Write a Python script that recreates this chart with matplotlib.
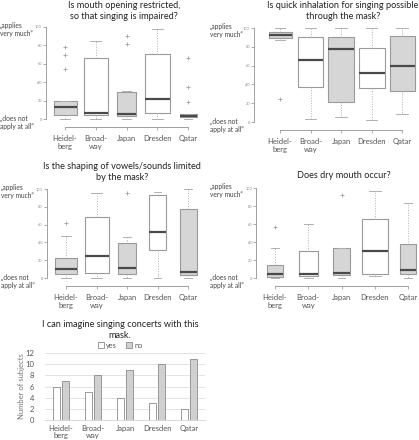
import numpy as np
import matplotlib
matplotlib.use('Agg')
import matplotlib.pyplot as plt

plt.rcParams['font.family'] = ['Lato', 'DejaVu Sans']

W, H = 419, 440

sites = ['Heidel-\nberg', 'Broad-\nway', 'Japan', 'Dresden', 'Qatar']
shaded = [True, False, True, False, True]

# mouth opening
t1 = 'Is mouth opening restricted,\nso that singing is impaired?'
lo1 = [0, 0, 0, 0, 0]
q1_1 = [4, 4, 3, 7, 2]
med1 = [13, 7, 5, 22, 3]
q3_1 = [20, 66, 29, 71, 5]
hi1 = [20, 85, 30, 98, 5]
out1 = [[54, 70, 78], [], [82, 90], [], [18, 35, 66]]

# quick inhalation
t2 = 'Is quick inhalation for singing possible\nthrough the mask?'
lo2 = [87, 3, 5, 2, 9]
q1_2 = [89, 37, 21, 36, 33]
med2 = [93, 66, 78, 52, 60]
q3_2 = [96, 90, 90, 79, 92]
hi2 = [100, 100, 100, 100, 100]
out2 = [[24], [], [], [], []]

# vowels
t3 = 'Is the shaping of vowels/sounds limited\nby the mask?'
lo3 = [0, 0, 0, 0, 0]
q1_3 = [4, 6, 4, 31, 3]
med3 = [10, 25, 11, 52, 7]
q3_3 = [22, 68, 39, 93, 77]
hi3 = [47, 96, 46, 97, 100]
out3 = [[62], [], [95], [], []]

# dry mouth
t4 = 'Does dry mouth occur?'
lo4 = [0, 0, 0, 2, 0]
q1_4 = [1, 2, 3, 4, 4]
med4 = [4, 4, 6, 30, 9]
q3_4 = [15, 30, 33, 65, 38]
hi4 = [33, 60, 33, 97, 83]
out4 = [[57], [], [92], [], []]

# concerts
t5 = 'I can imagine singing concerts with this\nmask.'
yes = [6, 5, 4, 3, 2]
no = [7, 8, 9, 10, 11]

fig = plt.figure(figsize=(W / 100, H / 100), dpi=100)


def fx(x):
    return x / W


def fy(y):
    return 1 - y / H


def boxpanel(title, lo, q1, med, q3, hi, out, c1, c5, y100, y0, spx, widths, tx, ty):
    s = (c5 - c1) / 4.0
    left = c1 - s / 2
    ax = fig.add_axes([fx(left), fy(y0), 5 * s / W, (y0 - y100) / H])
    stats = []
    for i in range(5):
        stats.append(dict(med=med[i], q1=q1[i], q3=q3[i], whislo=lo[i],
                          whishi=hi[i], fliers=out[i]))
    wd = [w / s for w in widths]
    bp = ax.bxp(stats, positions=range(1, 6), widths=wd, patch_artist=True,
                boxprops=dict(edgecolor='#9a9a9a', linewidth=0.8),
                medianprops=dict(color='#4a4a4a', linewidth=1.6),
                whiskerprops=dict(color='#b0b0b0', linewidth=0.7, linestyle=':'),
                capprops=dict(color='#b0b0b0', linewidth=0.7),
                flierprops=dict(marker='+', markersize=3, markeredgecolor='#a0a0a0',
                                markeredgewidth=0.6))
    for patch, sh in zip(bp['boxes'], shaded):
        patch.set_facecolor('#d6d6d6' if sh else 'white')
    for k in bp:
        for a in bp[k]:
            a.set_clip_on(False)
    for i in range(5):
        capw = wd[i] * 0.45
        bp['caps'][2 * i].set_xdata([i + 1 - capw / 2, i + 1 + capw / 2])
        bp['caps'][2 * i + 1].set_xdata([i + 1 - capw / 2, i + 1 + capw / 2])
    ax.set_xlim(0.5, 5.5)
    ax.set_ylim(0, 100)
    ax.set_facecolor('none')
    for sp in ['top', 'right']:
        ax.spines[sp].set_visible(False)
    ax.spines['left'].set_position(('outward', left - spx))
    ax.spines['left'].set_bounds(0, 100)
    ax.spines['bottom'].set_position(('outward', 6))
    ax.spines['bottom'].set_bounds(1, 5)
    for sp in ['left', 'bottom']:
        ax.spines[sp].set_color('#a0a0a0')
        ax.spines[sp].set_linewidth(0.7)
    ax.set_yticks([0, 20, 40, 60, 80, 100])
    ax.tick_params(axis='y', labelsize=2.8, colors='#a0a0a0', labelcolor='#888888',
                   length=2, width=0.6, pad=1)
    ax.set_xticks(range(1, 6))
    ax.set_xticklabels(sites)
    ax.tick_params(axis='x', labelsize=5.5, colors='#a0a0a0', labelcolor='#555555',
                   length=2.5, width=0.6, pad=3)
    for lab in ax.get_xticklabels():
        lab.set_linespacing(1.1)
    fig.text(fx(tx), fy(ty), title, ha='center', va='center', fontsize=6.6,
             color='#222222', linespacing=1.15)
    lx = spx - 47
    fig.text(fx(lx), fy(y100 + 2), '\u201eapplies\nvery much\u201c', ha='left',
             va='center', fontsize=4.8, color='#444444', linespacing=1.15)
    fig.text(fx(lx), fy(y0 + 3), '\u201edoes not\napply at all\u201c', ha='left',
             va='center', fontsize=4.8, color='#444444', linespacing=1.15)
    return ax


boxpanel(t1, lo1, q1_1, med1, q3_1, hi1, out1, 65, 188, 27, 119, 47,
         [23, 24, 19, 25, 17], 124, 11)
boxpanel(t2, lo2, q1_2, med2, q3_2, hi2, out2, 280, 402, 28, 122, 257,
         [23, 25, 26, 26, 25], 343, 11)
boxpanel(t3, lo3, q1_3, med3, q3_3, hi3, out3, 66, 188, 189, 278, 48,
         [22, 24, 18, 17, 17], 122, 172)
boxpanel(t4, lo4, q1_4, med4, q3_4, hi4, out4, 275, 408, 188, 278, 257,
         [16, 19, 17, 26, 16], 344, 175)

# bar chart
ax = fig.add_axes([fx(45), fy(420), 160 / W, 67 / H])
x = np.arange(len(sites))
bw = 0.24
ax.bar(x - 0.14, yes, bw, color='white', edgecolor='#8a8a8a', linewidth=0.6,
       label='yes', zorder=3)
ax.bar(x + 0.14, no, bw, color='#d0d0d0', edgecolor='#8a8a8a', linewidth=0.6,
       label='no', zorder=3)
ax.set_xlim(-0.5, 4.5)
ax.set_ylim(0, 12)
ax.set_yticks(range(0, 13, 2))
ax.grid(axis='y', color='#e2e2e2', linewidth=0.7, zorder=0)
for sp in ['top', 'right', 'left']:
    ax.spines[sp].set_visible(False)
ax.spines['bottom'].set_color('#d8d8d8')
ax.spines['bottom'].set_linewidth(0.7)
ax.set_xticks(x)
ax.set_xticklabels(sites)
ax.tick_params(axis='both', length=0, labelsize=5.5, labelcolor='#555555')
ax.tick_params(axis='y', pad=8)
for lab in ax.get_xticklabels():
    lab.set_linespacing(1.1)
ax.set_ylabel('Number of subjects', fontsize=5.5, color='#777777', labelpad=0)
ax.legend(loc='lower center', bbox_to_anchor=(0.47, 1.0), ncol=2, frameon=False,
          fontsize=5.3, handlelength=0.8, handleheight=0.8, handletextpad=0.3,
          columnspacing=1.2, borderaxespad=0.2, labelcolor='#555555')
fig.text(fx(120), fy(330), t5, ha='center', va='center', fontsize=6.6,
         color='#222222', linespacing=1.15)

fig.savefig('out.png', dpi=100)
